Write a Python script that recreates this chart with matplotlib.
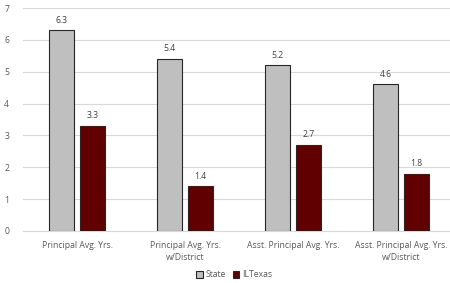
import matplotlib
matplotlib.use("Agg")
import matplotlib.pyplot as plt
import numpy as np

categories = ["Principal Avg. Yrs.", "Principal Avg. Yrs.\nw/District",
              "Asst. Principal Avg. Yrs.", "Asst. Principal Avg. Yrs.\nw/District"]
state = [6.3, 5.4, 5.2, 4.6]
iltexas = [3.3, 1.4, 2.7, 1.8]
yticks = [0, 1, 2, 3, 4, 5, 6, 7]

plt.rcParams['font.family'] = ['Open Sans', 'DejaVu Sans']
txt = '#595959'

fig = plt.figure(figsize=(4.5, 2.83), dpi=100)
ax = fig.add_axes([23/450, 52/283, 427/450, 223/283])

x = np.arange(len(categories))
w = 0.23
off = 0.143
b1 = ax.bar(x - off, state, w, color='#bfbfbf', edgecolor='#262626', linewidth=0.8, label='State', zorder=3)
b2 = ax.bar(x + off, iltexas, w, color='#600000', edgecolor='#262626', linewidth=0.8, label='ILTexas', zorder=3)

for bars, vals in ((b1, state), (b2, iltexas)):
    for r, v in zip(bars, vals):
        ax.annotate(f"{v:.1f}", (r.get_x() + r.get_width()/2, v), xytext=(0, 4),
                    textcoords='offset points', ha='center', va='bottom', fontsize=6.2, color='#404040')

ax.set_xlim(-0.5, 427/108 - 0.5)
ax.set_ylim(0, 7)
ax.set_yticks(yticks)
ax.yaxis.grid(True, color='#d9d9d9', linewidth=0.8, zorder=0)
ax.set_axisbelow(True)
for s in ('top', 'right', 'left'):
    ax.spines[s].set_visible(False)
ax.spines['bottom'].set_color('#d9d9d9')
ax.spines['bottom'].set_linewidth(0.8)
ax.set_xticks(x)
ax.set_xticklabels(categories, fontsize=6.2, color=txt, linespacing=1.5)
ax.tick_params(axis='both', length=0, colors=txt)
ax.tick_params(axis='y', pad=10, labelsize=6.2)
ax.tick_params(axis='x', pad=7)

leg = fig.legend(loc='lower center', bbox_to_anchor=(0.52, -0.015), ncol=2, frameon=False,
                 fontsize=6.2, handlelength=0.8, handleheight=0.8, handletextpad=0.3, columnspacing=0.8)
for t in leg.get_texts():
    t.set_color(txt)

fig.savefig("out.png", dpi=100)
